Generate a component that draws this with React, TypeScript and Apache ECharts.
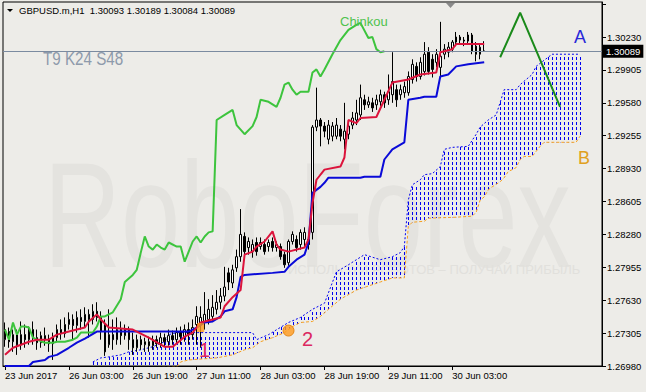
import React, { useEffect, useRef } from "react";
import * as echarts from "echarts";

const tickLabels = ["23 Jun 2017", "26 Jun 03:00", "26 Jun 19:00", "27 Jun 11:00", "28 Jun 03:00", "28 Jun 19:00", "29 Jun 11:00", "30 Jun 03:00"];
const barCount = 150;
const yMin = 1.2698;
const yMax = 1.30576;
const yStep = 0.00325;
const yLabelMax = 1.3023;
const titleText = "GBPUSD.m,H1  1.30093 1.30189 1.30084 1.30089";
const paramsText = "T9 K24 S48";
const watermarkText = "RoboForex";
const sloganText = "ИСПОЛЬЗУЙ РОБОТОВ – ПОЛУЧАЙ ПРИБЫЛЬ";
const currentPrice = 1.30089;

// [open, close, low, high]
const candles = [
  [1.2724, 1.2734, 1.2717, 1.2741], [1.2732, 1.2722, 1.2716, 1.2736], [1.2722, 1.2729, 1.2712, 1.2734], [1.2729, 1.2719, 1.2709, 1.2734],
  [1.2719, 1.2729, 1.2714, 1.2742], [1.2729, 1.2724, 1.2716, 1.2739], [1.2724, 1.2734, 1.2719, 1.2737], [1.2734, 1.2726, 1.2719, 1.2742],
  [1.2726, 1.2721, 1.2714, 1.2734], [1.2721, 1.2728, 1.2716, 1.2732], [1.2728, 1.2724, 1.2718, 1.2736], [1.2724, 1.272, 1.2712, 1.2729],
  [1.272, 1.2726, 1.2704, 1.2731], [1.2726, 1.2734, 1.2722, 1.2739], [1.2734, 1.273, 1.2724, 1.2744], [1.273, 1.2739, 1.2726, 1.2746],
  [1.2739, 1.2744, 1.2734, 1.2751], [1.2744, 1.2738, 1.2724, 1.2749], [1.2738, 1.2746, 1.2731, 1.2752], [1.2746, 1.2742, 1.2734, 1.2754],
  [1.2742, 1.2749, 1.2736, 1.2756], [1.2749, 1.2744, 1.2726, 1.2754], [1.2744, 1.2752, 1.2739, 1.2759], [1.2752, 1.2746, 1.2742, 1.2761],
  [1.2746, 1.2732, 1.2724, 1.2752], [1.2739, 1.2712, 1.2708, 1.2744], [1.2719, 1.2729, 1.2716, 1.2754], [1.2729, 1.2724, 1.2714, 1.2744],
  [1.2724, 1.2734, 1.2719, 1.2746], [1.2734, 1.2728, 1.2719, 1.2742], [1.2728, 1.2734, 1.2724, 1.2739], [1.2734, 1.2724, 1.2714, 1.2737],
  [1.2724, 1.2716, 1.2709, 1.2731], [1.2716, 1.2724, 1.2712, 1.2729], [1.2724, 1.2719, 1.2714, 1.2728], [1.2719, 1.2722, 1.2712, 1.2726],
  [1.2722, 1.2718, 1.2712, 1.2727], [1.2718, 1.2724, 1.2714, 1.2728], [1.2724, 1.272, 1.2716, 1.2728], [1.272, 1.2726, 1.2716, 1.2731],
  [1.2726, 1.2722, 1.2717, 1.273], [1.2722, 1.2728, 1.2718, 1.2734], [1.2728, 1.2724, 1.2719, 1.2733], [1.2724, 1.2731, 1.272, 1.2736],
  [1.2731, 1.2727, 1.2719, 1.2737], [1.2727, 1.2734, 1.2722, 1.2739], [1.2734, 1.2729, 1.2719, 1.2741], [1.2729, 1.2736, 1.2724, 1.2744],
  [1.2739, 1.2747, 1.2719, 1.2757], [1.2739, 1.2746, 1.2716, 1.2757], [1.2742, 1.2749, 1.2734, 1.2771], [1.2744, 1.2754, 1.2739, 1.2764],
  [1.2747, 1.2756, 1.2742, 1.2768], [1.2754, 1.2761, 1.2749, 1.2773], [1.2761, 1.2767, 1.2754, 1.2775], [1.2767, 1.2776, 1.2762, 1.2796],
  [1.279, 1.2781, 1.2773, 1.2795], [1.278, 1.2793, 1.2775, 1.2798], [1.2795, 1.2806, 1.2791, 1.2813], [1.2806, 1.2828, 1.2801, 1.2853],
  [1.2826, 1.2811, 1.2805, 1.283], [1.2815, 1.2821, 1.2808, 1.2825], [1.2811, 1.2818, 1.2805, 1.2823], [1.282, 1.2811, 1.2807, 1.2825],
  [1.2816, 1.282, 1.2813, 1.2825], [1.2818, 1.2811, 1.2808, 1.2823], [1.2816, 1.282, 1.2811, 1.2823], [1.2821, 1.2815, 1.2811, 1.2825],
  [1.2815, 1.2818, 1.2811, 1.2821], [1.2816, 1.2806, 1.2803, 1.2819], [1.2808, 1.2798, 1.2795, 1.2811], [1.28, 1.2821, 1.2797, 1.2823],
  [1.2821, 1.2828, 1.2818, 1.2831], [1.2823, 1.2815, 1.2811, 1.2827], [1.2818, 1.283, 1.2813, 1.2833], [1.2823, 1.283, 1.2815, 1.2835],
  [1.2823, 1.2818, 1.2813, 1.2828], [1.283, 1.2934, 1.2823, 1.2936], [1.2934, 1.2941, 1.293, 1.2973], [1.2941, 1.2935, 1.2915, 1.2943],
  [1.2935, 1.293, 1.2924, 1.2939], [1.2922, 1.2936, 1.2917, 1.2941], [1.2925, 1.2935, 1.292, 1.2939], [1.2925, 1.2936, 1.2922, 1.2943],
  [1.2932, 1.2925, 1.292, 1.2936], [1.2922, 1.293, 1.2912, 1.2958], [1.2927, 1.2935, 1.2922, 1.2939], [1.2936, 1.2943, 1.2932, 1.2949],
  [1.2941, 1.2948, 1.2936, 1.2961], [1.2946, 1.2963, 1.2941, 1.2976], [1.2961, 1.2956, 1.2951, 1.2966], [1.2956, 1.2959, 1.2953, 1.2964],
  [1.2958, 1.2953, 1.2949, 1.2963], [1.2956, 1.2961, 1.2951, 1.2966], [1.2959, 1.2966, 1.2955, 1.2971], [1.2966, 1.2958, 1.2953, 1.2969],
  [1.2961, 1.2969, 1.2956, 1.2986], [1.2966, 1.2979, 1.2958, 1.3008], [1.2971, 1.2961, 1.2954, 1.2976], [1.2966, 1.2971, 1.2961, 1.2976],
  [1.2968, 1.2974, 1.2963, 1.2979], [1.2968, 1.2984, 1.2965, 1.2989], [1.2981, 1.2996, 1.2977, 1.3001], [1.2994, 1.2984, 1.2979, 1.2998],
  [1.2984, 1.2998, 1.2981, 1.3003], [1.2989, 1.3006, 1.2985, 1.3018], [1.3008, 1.2989, 1.2986, 1.3013], [1.3001, 1.2991, 1.2983, 1.3006],
  [1.2998, 1.3006, 1.2993, 1.3011], [1.2993, 1.3004, 1.2984, 1.3038], [1.3006, 1.3011, 1.3001, 1.3016], [1.3008, 1.3013, 1.3003, 1.3018],
  [1.3011, 1.3018, 1.3008, 1.302], [1.3018, 1.3023, 1.3014, 1.3028], [1.302, 1.3023, 1.3016, 1.3025], [1.302, 1.3019, 1.3014, 1.3023],
  [1.3019, 1.3025, 1.3016, 1.3028], [1.3025, 1.3009, 1.3006, 1.3027], [1.3014, 1.3006, 1.2999, 1.3018], [1.3006, 1.3013, 1.3001, 1.3016],
  [1.30093, 1.30089, 1.30084, 1.30189],
];

// [bar index, price]
const tenkan = [[0, 1.2709], [2, 1.2716], [4, 1.2719], [6, 1.2722], [8, 1.2724], [11, 1.2724], [13, 1.2729], [16, 1.2732], [20, 1.2736], [21, 1.2742], [23, 1.2749], [24, 1.2744], [26, 1.2736], [32, 1.2734], [36, 1.2726], [40, 1.2717], [42, 1.2717], [45, 1.2727], [47, 1.2731], [49, 1.2741], [50, 1.2742], [54, 1.2746], [55, 1.2757], [57, 1.2766], [59, 1.2773], [60, 1.2808], [62, 1.2811], [63, 1.2816], [65, 1.2821], [67, 1.2831], [68, 1.2818], [69, 1.2813], [71, 1.2811], [75, 1.2815], [76, 1.2823], [77, 1.2859], [78, 1.2882], [80, 1.2892], [84, 1.2895], [85, 1.2904], [86, 1.2941], [88, 1.2938], [89, 1.2943], [93, 1.2944], [95, 1.2961], [97, 1.2978], [101, 1.2981], [104, 1.2986], [108, 1.2988], [109, 1.3008], [112, 1.3011], [113, 1.3016], [120, 1.3016]];
const kijun = [[0, 1.2698], [6, 1.2698], [7, 1.2702], [10, 1.2704], [11, 1.2707], [13, 1.2709], [16, 1.2716], [18, 1.2721], [20, 1.2725], [23, 1.2732], [46, 1.2732], [48, 1.2736], [50, 1.2741], [52, 1.2742], [54, 1.2747], [55, 1.2752], [57, 1.2754], [58, 1.2766], [59, 1.2786], [60, 1.2788], [67, 1.279], [70, 1.2791], [71, 1.2796], [73, 1.2803], [75, 1.2808], [76, 1.282], [77, 1.2869], [79, 1.2875], [80, 1.2879], [81, 1.2884], [89, 1.2884], [90, 1.2885], [94, 1.2885], [95, 1.2902], [97, 1.2912], [100, 1.2919], [101, 1.2961], [104, 1.2963], [105, 1.2964], [108, 1.2964], [109, 1.2984], [111, 1.2986], [113, 1.2994], [116, 1.2996], [120, 1.2998]];
const chinkou = [[0, 1.2734], [1, 1.2724], [2, 1.2741], [3, 1.2729], [4, 1.2737], [5, 1.2737], [6, 1.2736], [7, 1.2726], [8, 1.2724], [10, 1.2721], [12, 1.2721], [13, 1.2722], [15, 1.2722], [17, 1.2724], [18, 1.2726], [19, 1.2731], [22, 1.2731], [23, 1.2737], [24, 1.2747], [25, 1.2747], [27, 1.2751], [29, 1.2764], [30, 1.2781], [32, 1.2788], [33, 1.2793], [34, 1.281], [35, 1.2826], [36, 1.2816], [37, 1.2813], [38, 1.2818], [39, 1.2815], [40, 1.2813], [41, 1.282], [43, 1.2816], [44, 1.2816], [45, 1.2801], [46, 1.2811], [47, 1.2821], [48, 1.2826], [49, 1.282], [50, 1.2826], [51, 1.283], [52, 1.2831], [53, 1.2941], [55, 1.2946], [57, 1.2951], [58, 1.2936], [60, 1.2927], [62, 1.2935], [63, 1.2944], [64, 1.2961], [66, 1.2959], [68, 1.2954], [69, 1.2963], [70, 1.2976], [71, 1.2978], [72, 1.2971], [73, 1.2966], [74, 1.2969], [76, 1.2969], [77, 1.2988], [78, 1.2991], [79, 1.2984], [80, 1.2991], [82, 1.3006], [84, 1.302], [86, 1.303], [88, 1.3035], [89, 1.3037], [91, 1.3022], [92, 1.3023], [93, 1.3011], [94, 1.3008], [95, 1.3009]];
const senkouA = [[22, 1.2702], [24, 1.2706], [26, 1.2707], [29, 1.2709], [31, 1.2712], [34, 1.2714], [37, 1.2717], [40, 1.2722], [41, 1.2729], [43, 1.2731], [62, 1.2731], [63, 1.2724], [66, 1.2729], [71, 1.2741], [74, 1.2746], [77, 1.2754], [80, 1.276], [83, 1.2791], [86, 1.2798], [90, 1.2808], [94, 1.2803], [97, 1.2806], [99, 1.281], [100, 1.2816], [101, 1.2862], [102, 1.2877], [104, 1.2882], [105, 1.2887], [107, 1.2888], [109, 1.2895], [110, 1.2912], [112, 1.2914], [116, 1.2915], [118, 1.2927], [119, 1.2934], [121, 1.2941], [123, 1.2946], [125, 1.2971], [128, 1.2971], [129, 1.2976], [132, 1.2986], [133, 1.2994], [136, 1.3003], [137, 1.3006], [144, 1.3006]];
const senkouB = [[22, 1.2688], [33, 1.2696], [43, 1.2697], [44, 1.2702], [46, 1.2704], [53, 1.2706], [57, 1.2709], [60, 1.2714], [62, 1.2716], [64, 1.2722], [67, 1.2726], [70, 1.2731], [72, 1.2737], [74, 1.2741], [77, 1.2742], [79, 1.2747], [81, 1.2754], [84, 1.2764], [88, 1.2773], [94, 1.2781], [97, 1.2785], [100, 1.2785], [101, 1.2836], [102, 1.284], [105, 1.2841], [106, 1.2844], [113, 1.2845], [117, 1.2846], [118, 1.285], [119, 1.2862], [120, 1.2865], [121, 1.2872], [122, 1.2875], [124, 1.288], [125, 1.2884], [126, 1.289], [128, 1.2894], [129, 1.2902], [130, 1.2905], [132, 1.2905], [133, 1.291], [134, 1.2915], [135, 1.2919], [143, 1.2919], [144, 1.2925]];
const forecast = [[124, 1.3003], [129, 1.3047], [139, 1.2954]];
const point1 = [[49, 1.2736]];
const point2 = [[71, 1.2733]];

const FONT = "'Liberation Sans', Arial, sans-serif";
const BG = "#EDECE8";
const HATCH = "#0000F0";

// y of a pixel polyline at pixel x
function yAt(pts: number[][], x: number) {
  if (x <= pts[0][0]) return pts[0][1];
  for (let k = 1; k < pts.length; k++) {
    const a = pts[k - 1], b = pts[k];
    if (x <= b[0]) return a[1] + ((b[1] - a[1]) * (x - a[0])) / (b[0] - a[0] || 1);
  }
  return pts[pts.length - 1][1];
}

export default function App() {
  const ref = useRef<HTMLDivElement>(null);
  useEffect(() => {
    if (!ref.current) return;
    const chart = echarts.init(ref.current, null, { renderer: "svg" });
    const categories = Array.from({ length: barCount }, (_, i) => String(i));
    const showTick = (i: number) => i % 16 === 0 && i / 16 < tickLabels.length;
    const lineBase = { type: "line", symbol: "none", silent: true, animation: false };
    chart.setOption({
      animation: false,
      backgroundColor: BG,
      grid: { left: 3, right: 44, top: 2, bottom: 26, show: true, borderColor: "#000", borderWidth: 1, backgroundColor: "transparent", outerBoundsMode: "none" },
      xAxis: {
        type: "category",
        data: categories,
        boundaryGap: true,
        axisLine: { show: true, lineStyle: { color: "#000", width: 1 } },
        axisTick: { show: true, interval: showTick, length: 4, alignWithLabel: true, lineStyle: { color: "#000" } },
        axisLabel: { interval: showTick, formatter: (_v: string, i: number) => tickLabels[i / 16] ?? "", align: "left", color: "#000", fontSize: 9.5, fontFamily: FONT, margin: 4 },
        splitLine: { show: false },
      },
      yAxis: {
        type: "value",
        position: "right",
        min: yMin,
        max: yMax,
        interval: yStep,
        splitLine: { show: false },
        axisLine: { show: true, lineStyle: { color: "#000", width: 1 } },
        axisTick: { show: true, length: 4, lineStyle: { color: "#000" } },
        axisLabel: { color: "#000", fontSize: 9.5, fontFamily: FONT, margin: 5, showMaxLabel: false, formatter: (v: number) => (v > yLabelMax + 1e-6 ? "" : v.toFixed(5)) },
      },
      graphic: [
        { type: "text", z: 0, silent: true, left: 44, top: 140, scaleX: 0.71, style: { text: watermarkText, font: `150px ${FONT}`, fill: "#E4E3DF" } },
        { type: "text", z: 0, silent: true, left: 288, top: 263, style: { text: sloganText, font: `13px ${FONT}`, fill: "#E1E0DC" } },
        { type: "polygon", z: 100, silent: true, shape: { points: [[7, 9], [13, 9], [10, 12]] }, style: { fill: "#000" } },
        { type: "text", z: 100, silent: true, left: 19, top: 5, style: { text: titleText, font: `9.5px ${FONT}`, fill: "#000" } },
        { type: "text", z: 100, silent: true, left: 43, top: 49, scaleX: 0.8, style: { text: paramsText, font: `19px ${FONT}`, fill: "#8E9AAB" } },
        { type: "polygon", z: 100, silent: true, shape: { points: [[446, 3], [455, 3], [450.5, 8]] }, style: { fill: "#8A8A8A" } },
        { type: "text", z: 100, silent: true, left: 340, top: 15, style: { text: "Chinkou", font: `13px ${FONT}`, fill: "#4DC24D" } },
        { type: "text", z: 100, silent: true, left: 574, top: 28, style: { text: "A", font: `18px ${FONT}`, fill: "#2828D8" } },
        { type: "text", z: 100, silent: true, left: 578, top: 149, style: { text: "B", font: `18px ${FONT}`, fill: "#E0A020" } },
        { type: "text", z: 100, silent: true, left: 199, top: 340, style: { text: "1", font: `20px ${FONT}`, fill: "#DC2860" } },
        { type: "text", z: 100, silent: true, left: 302, top: 329, style: { text: "2", font: `20px ${FONT}`, fill: "#DC2860" } },
      ],
      series: [
        {
          type: "custom",
          silent: true,
          z: 1,
          data: [[0, yMin]],
          renderItem: (params: any, api: any) => {
            const cs = params.coordSys;
            const top = senkouA.map((p) => api.coord(p));
            const bot = senkouB.map((p) => api.coord(p));
            const first = senkouA[0][0];
            const last = senkouA[senkouA.length - 1][0];
            const children: any[] = [];
            const gridBottom = cs.y + cs.height;
            for (let k = first; k <= last; k++) {
              const x = Math.round(api.coord([k, yMin])[0]) + 0.5;
              const yt = yAt(top, x);
              let yb = Math.min(yAt(bot, x), gridBottom);
              const y0 = cs.y + Math.ceil((yt - cs.y) / 5) * 5;
              if (yb - y0 < 1) continue;
              children.push({
                type: "line",
                shape: { x1: x, y1: y0, x2: x, y2: yb },
                style: { stroke: HATCH, lineWidth: 1, lineDash: [3, 2] },
              });
            }
            return { type: "group", children };
          },
        },
        { ...lineBase, z: 2, data: senkouA, lineStyle: { color: HATCH, width: 1, type: [2, 2] } },
        { ...lineBase, z: 2, data: senkouB, lineStyle: { color: "#F5A020", width: 1, type: [3, 2] } },
        {
          type: "candlestick",
          z: 3,
          silent: true,
          barWidth: 2,
          data: candles,
          itemStyle: { color: "#FFFFFF", color0: "#000000", borderColor: "#000000", borderColor0: "#000000", borderWidth: 1 },
          markLine: {
            silent: true,
            precision: 5,
            symbol: ["none", "none"],
            data: [{ yAxis: currentPrice }],
            lineStyle: { color: "#7B8BA0", width: 1, type: "solid" },
            label: { show: true, position: "end", formatter: currentPrice.toFixed(5), color: "#fff", backgroundColor: "#000", padding: [2, 3, 1, 3], fontSize: 9.5, fontFamily: FONT, distance: 1 },
          },
        },
        { ...lineBase, z: 4, data: chinkou, lineStyle: { color: "#3DC43D", width: 2 } },
        { ...lineBase, z: 5, data: kijun, lineStyle: { color: "#0A0AD8", width: 2 } },
        { ...lineBase, z: 6, data: tenkan, lineStyle: { color: "#DC143C", width: 2 } },
        { ...lineBase, z: 6, data: forecast, lineStyle: { color: "#1A8A1A", width: 2 } },
        { type: "scatter", z: 7, silent: true, data: point1, symbol: "rect", symbolSize: [7, 9], itemStyle: { color: "#FF9A1A" } },
        { type: "scatter", z: 7, silent: true, data: point2, symbol: "circle", symbolSize: 11, itemStyle: { color: "#FF9A1A", borderColor: "#E07800", borderWidth: 1 } },
      ],
    });
    return () => chart.dispose();
  }, []);
  return <div ref={ref} style={{ position: "fixed", left: 0, top: 0, width: 646, height: 392, background: BG }} />;
}
